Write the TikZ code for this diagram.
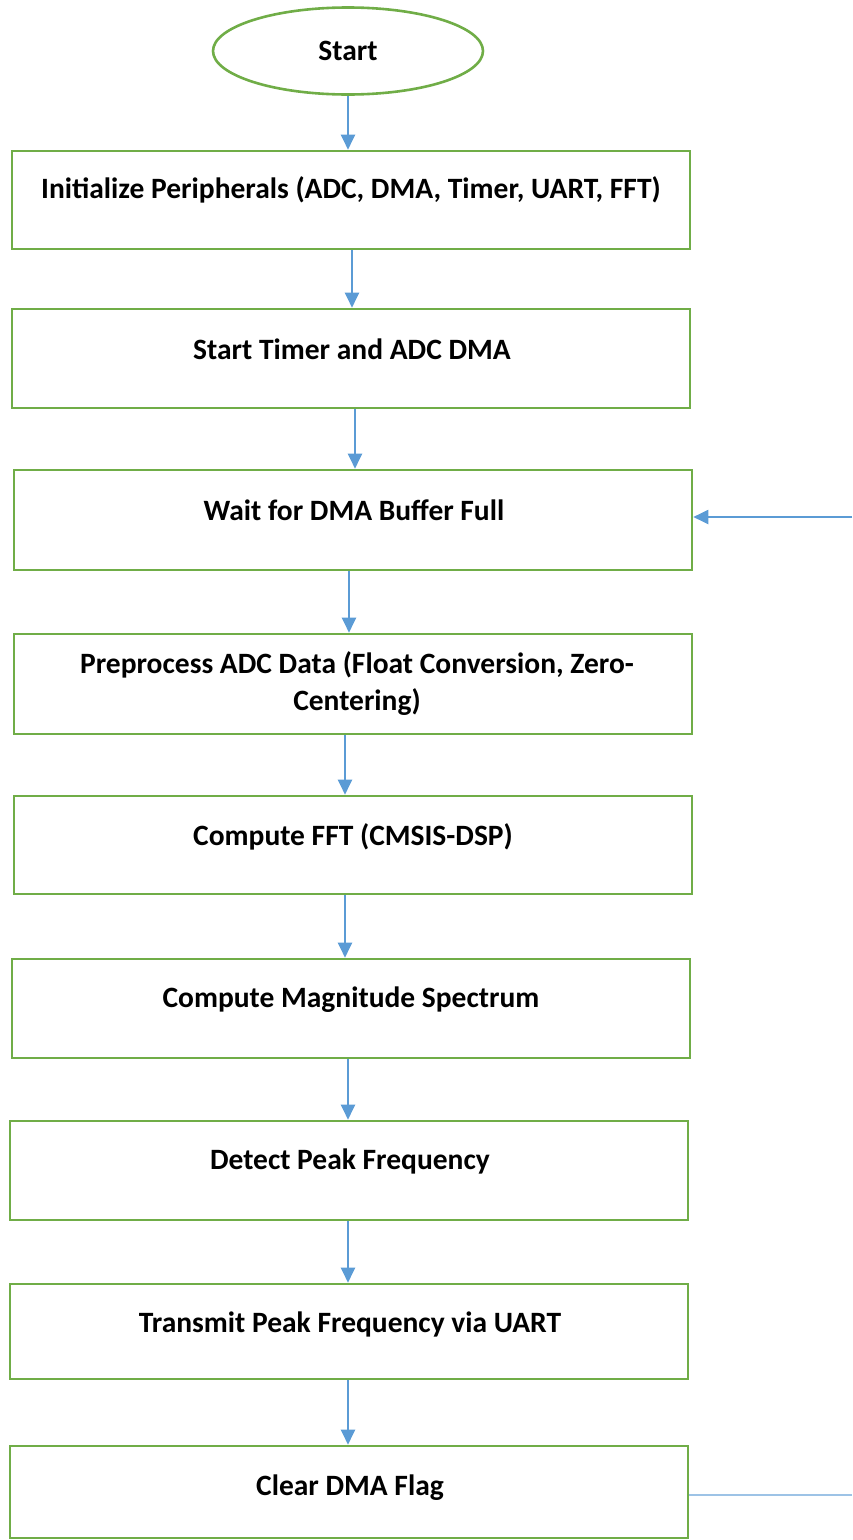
\documentclass[tikz,border=0pt]{standalone}
\usepackage{fontspec}
\setmainfont{Carlito}
\usetikzlibrary{arrows.meta,shapes.geometric}
\definecolor{boxgreen}{HTML}{70AD47}
\definecolor{arrblue}{HTML}{5B9BD5}
\definecolor{lineblue}{HTML}{9DC3E6}
\tikzset{
  box/.style={draw=boxgreen,line width=2.6pt,minimum width=678pt,inner sep=0pt},
  oval/.style={ellipse,draw=boxgreen,line width=2.6pt,minimum width=270pt,minimum height=87pt,inner sep=0pt,font=\fontsize{29.5}{37}\selectfont\bfseries},
  txtbase/.style={font=\fontsize{29.5}{37}\selectfont\bfseries,align=center,inner sep=0pt},
  txt/.style={txtbase,text height=19pt,text depth=0pt},
  arr/.style={draw=arrblue,line width=2pt,-{Triangle[length=15pt,width=14pt]}},
  plainline/.style={draw=lineblue,line width=1.6pt}
}
\begin{document}
\begin{tikzpicture}[x=1pt,y=-1pt]
\useasboundingbox (0,0) rectangle (852,1540);
\node[oval] (s) at (348,51) {Start};
\node[box,minimum height=98pt] (b1) at (351,200) {};
\node[box,minimum height=99pt] (b2) at (351,358.5) {};
\node[box,minimum height=100pt] (b3) at (353,520) {};
\node[box,minimum height=100pt] (b4) at (353,684) {};
\node[box,minimum height=98pt] (b5) at (353,845) {};
\node[box,minimum height=99pt] (b6) at (351,1008.5) {};
\node[box,minimum height=99pt] (b7) at (349,1170.5) {};
\node[box,minimum height=95pt] (b8) at (349,1331.5) {};
\node[box,minimum height=92pt] (b9) at (349,1492) {};
\node[txt] (t1) at (351,189) {Initialize Peripherals (ADC, DMA, Timer, UART, FFT)};
\node[txt] (t2) at (352,350) {Start Timer and ADC DMA};
\node[txt] (t3) at (354,511) {Wait for DMA Buffer Full};
\node[txtbase] (t4) at ([xshift=4pt]b4.center) {Preprocess ADC Data (Float Conversion, Zero-\\Centering)};
\node[txt] (t5) at (353,836) {Compute FFT (CMSIS-DSP)};
\node[txt] (t6) at (351,998) {Compute Magnitude Spectrum};
\node[txt] (t7) at (350,1160) {Detect Peak Frequency};
\node[txt] (t8) at (350,1323) {Transmit Peak Frequency via UART};
\node[txt] (t9) at (350,1486) {Clear DMA Flag};
\coordinate (loopin) at (852,517);
\coordinate (loopout) at (852,1495);
\draw[arr] (s.south) -- (s.south |- b1.north);
\draw[arr] ([xshift=1pt]b1.south) -- ([xshift=1pt]b1.south |- b2.north);
\draw[arr] ([xshift=4pt]b2.south) -- ([xshift=4pt]b2.south |- b3.north);
\draw[arr] ([xshift=-4pt]b3.south) -- ([xshift=-4pt]b3.south |- b4.north);
\draw[arr] ([xshift=-8pt]b4.south) -- ([xshift=-8pt]b4.south |- b5.north);
\draw[arr] ([xshift=-8pt]b5.south) -- ([xshift=-8pt]b5.south |- b6.north);
\draw[arr] ([xshift=-3pt]b6.south) -- ([xshift=-3pt]b6.south |- b7.north);
\draw[arr] ([xshift=-1pt]b7.south) -- ([xshift=-1pt]b7.south |- b8.north);
\draw[arr] ([xshift=-1pt]b8.south) -- ([xshift=-1pt]b8.south |- b9.north);
\draw[arr] (loopin) -- (loopin -| b3.east);
\draw[plainline] (loopout -| b9.east) -- (loopout);
\end{tikzpicture}
\end{document}
